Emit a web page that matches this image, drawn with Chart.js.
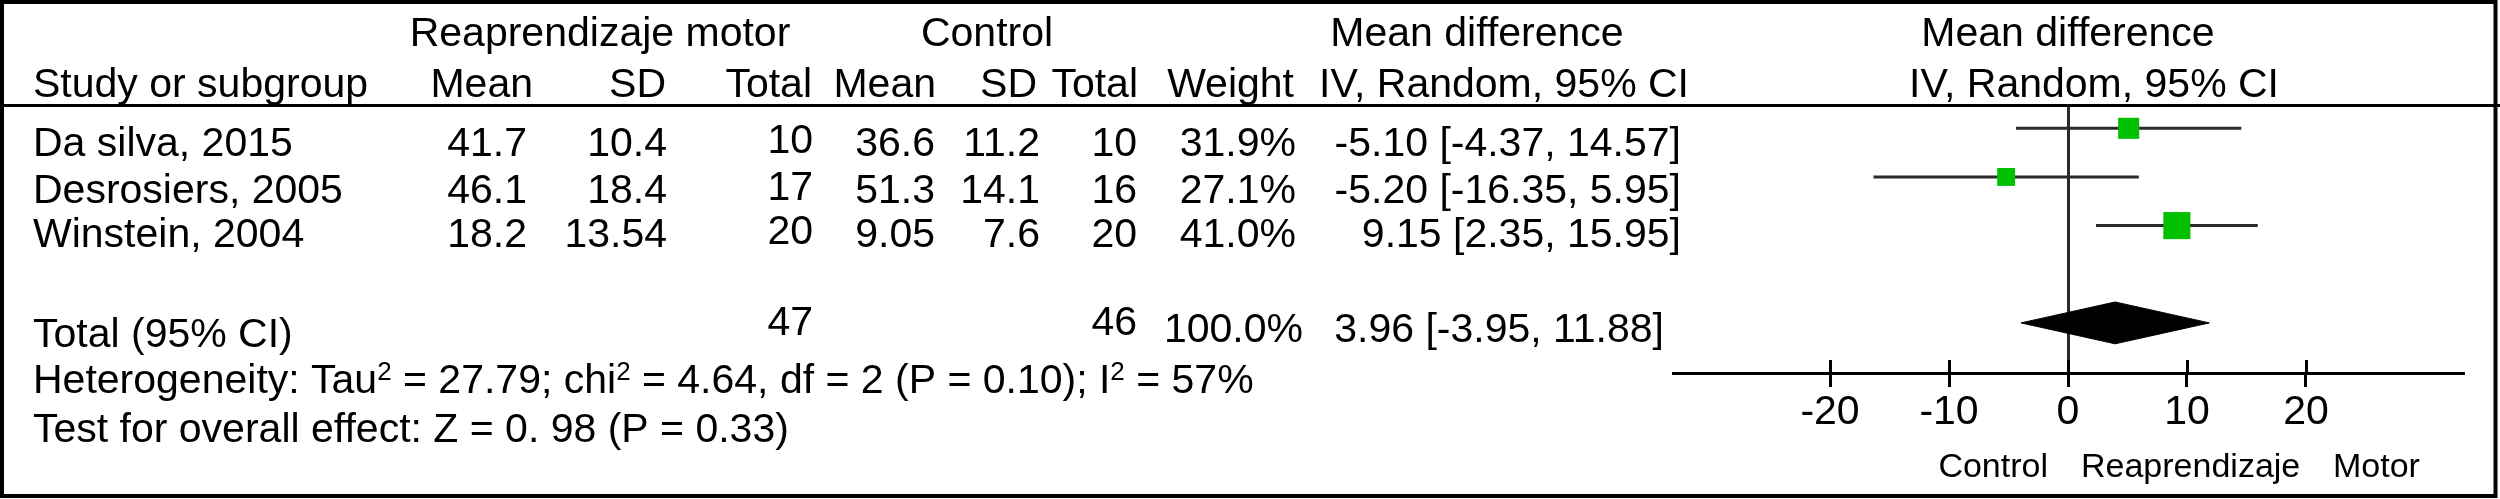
<!DOCTYPE html>
<html>
<head>
<meta charset="utf-8">
<script src="https://cdn.jsdelivr.net/npm/chart.js@4/dist/chart.umd.min.js"></script>
<style>
  html, body { margin: 0; padding: 0; background: #fff; }
  canvas { display: block; }
</style>
</head>
<body>
<canvas id="forest" width="2500" height="499"></canvas>
<script>
// study data
const studies = ["Da silva, 2015", "Desrosiers, 2005", "Winstein, 2004"];
const expMean = [41.7, 46.1, 18.2];
const expSD = [10.4, 18.4, 13.54];
const expTotal = [10, 17, 20];
const ctrlMean = [36.6, 51.3, 9.05];
const ctrlSD = [11.2, 14.1, 7.6];
const ctrlTotal = [10, 16, 20];
const weights = [31.9, 27.1, 41.0];
const meanDiff = [5.10, -5.20, 9.15];
const ciLow = [-4.37, -16.35, 2.35];
const ciHigh = [14.57, 5.95, 15.95];
const mdLabels = ["-5.10 [-4.37, 14.57]", "-5.20 [-16.35, 5.95]", "9.15 [2.35, 15.95]"];

// pooled result
const totalExp = 47;
const totalCtrl = 46;
const totalWeight = 100.0;
const pooled = 3.96;
const pooledLow = -3.95;
const pooledHigh = 11.88;
const pooledLabel = "3.96 [-3.95, 11.88]";

const xTicks = [-20, -10, 0, 10, 20];

const FONT = '"Liberation Sans", Arial, Helvetica, sans-serif';
const rowY = [156, 203, 247];

function txt(ctx, s, x, y, align, size) {
  ctx.font = (size || 41) + "px " + FONT;
  ctx.textAlign = align || "left";
  ctx.textBaseline = "alphabetic";
  ctx.fillText(s, x, y);
}

// text with superscript "2" parts: [text, isSup]
function richTxt(ctx, parts, x, y) {
  let cx = x;
  parts.forEach(([s, sup]) => {
    ctx.font = (sup ? 26 : 41) + "px " + FONT;
    ctx.textAlign = "left";
    ctx.fillText(s, cx, sup ? y - 13 : y);
    cx += ctx.measureText(s).width;
  });
}

const tablePlugin = {
  id: "table",
  afterDraw(chart) {
    const ctx = chart.ctx;
    const x = chart.scales.x;
    ctx.save();
    ctx.fillStyle = "#000";

    // frame and header rule
    ctx.strokeStyle = "#000";
    ctx.lineWidth = 4;
    ctx.strokeRect(2, 2, 2493.5, 494);
    ctx.fillRect(0, 104, 2500, 3);

    // header
    txt(ctx, "Reaprendizaje motor", 600, 46, "center");
    txt(ctx, "Control", 987, 46, "center");
    txt(ctx, "Mean difference", 1477, 46, "center");
    txt(ctx, "Mean difference", 2068, 46, "center");

    txt(ctx, "Study or subgroup", 33, 97);
    txt(ctx, "Mean", 533, 97, "right");
    txt(ctx, "SD", 666, 97, "right");
    txt(ctx, "Total", 812, 97, "right");
    txt(ctx, "Mean", 936, 97, "right");
    txt(ctx, "SD", 1037, 97, "right");
    txt(ctx, "Total", 1138, 97, "right");
    txt(ctx, "Weight", 1294, 97, "right");
    txt(ctx, "IV, Random, 95% CI", 1689, 97, "right");
    txt(ctx, "IV, Random, 95% CI", 2094, 97, "center");

    // study rows
    studies.forEach((name, i) => {
      const y = rowY[i];
      txt(ctx, name, 33, y);
      txt(ctx, String(expMean[i]), 527, y, "right");
      txt(ctx, String(expSD[i]), 667, y, "right");
      txt(ctx, String(expTotal[i]), 813, y - 3, "right");
      txt(ctx, String(ctrlMean[i]), 935, y, "right");
      txt(ctx, String(ctrlSD[i]), 1040, y, "right");
      txt(ctx, String(ctrlTotal[i]), 1137, y, "right");
      txt(ctx, weights[i].toFixed(1) + "%", 1296, y, "right");
      txt(ctx, mdLabels[i], 1681, y, "right");
    });

    // total row
    txt(ctx, "Total (95% CI)", 33, 347);
    txt(ctx, String(totalExp), 813, 335, "right");
    txt(ctx, String(totalCtrl), 1137, 335, "right");
    txt(ctx, totalWeight.toFixed(1) + "%", 1303, 342, "right");
    txt(ctx, pooledLabel, 1664, 342, "right");

    richTxt(ctx, [["Heterogeneity: Tau"], ["2", true], [" = 27.79; chi"], ["2", true],
      [" = 4.64, df = 2 (P = 0.10); I"], ["2", true], [" = 57%"]], 33, 393);
    txt(ctx, "Test for overall effect: Z = 0. 98 (P = 0.33)", 33, 442);

    // upper half of the axis ticks
    ctx.strokeStyle = "#000";
    ctx.lineWidth = 3;
    xTicks.forEach(v => {
      const px = Math.round(x.getPixelForValue(v)) + 0.5;
      ctx.beginPath();
      ctx.moveTo(px, x.top - 13);
      ctx.lineTo(px, x.top);
      ctx.stroke();
    });

    // favours labels
    const zero = x.getPixelForValue(0);
    txt(ctx, "Control", zero - 20, 477, "right", 34);
    txt(ctx, "Reaprendizaje", zero + 13, 477, "left", 34);
    txt(ctx, "Motor", zero + 265, 477, "left", 34);
    ctx.restore();
  }
};

const ciSets = studies.map((s, i) => ({
  type: "line",
  label: s,
  data: [{ x: ciLow[i], y: i }, { x: ciHigh[i], y: i }],
  borderColor: "#2a2a2a",
  borderWidth: 3,
  pointRadius: 0,
  fill: false,
  order: 2
}));

new Chart(document.getElementById("forest"), {
  type: "scatter",
  data: {
    datasets: [
      {
        label: "Estimate",
        data: meanDiff.map((v, i) => ({ x: v, y: i })),
        pointStyle: "rect",
        pointRadius: weights.map(w => (w * 0.66) / Math.SQRT2),
        backgroundColor: "#00c000",
        borderWidth: 0,
        order: 1
      },
      {
        type: "line",
        label: "Total",
        data: [
          { x: pooledLow, y: 4 }, { x: pooled, y: 3.57 },
          { x: pooledHigh, y: 4 }, { x: pooled, y: 4.43 }, { x: pooledLow, y: 4 }
        ],
        borderColor: "#000",
        backgroundColor: "#000",
        borderWidth: 1,
        pointRadius: 0,
        tension: 0,
        fill: "shape",
        order: 1
      },
      ...ciSets
    ]
  },
  options: {
    responsive: false,
    animation: false,
    events: [],
    layout: { padding: { left: 1673, right: 37, top: 104, bottom: 61 } },
    plugins: { legend: { display: false }, tooltip: { enabled: false } },
    scales: {
      x: {
        type: "linear",
        min: -33.2,
        max: 33.2,
        afterBuildTicks: scale => { scale.ticks = xTicks.map(v => ({ value: v })); },
        grid: {
          drawOnChartArea: true,
          color: c => (c.tick && c.tick.value === 0 ? "#2a2a2a" : "rgba(0,0,0,0)"),
          lineWidth: 3,
          tickLength: 14,
          tickColor: "#000",
          tickWidth: 3
        },
        border: { display: true, color: "#000", width: 3 },
        ticks: {
          autoSkip: false,
          maxRotation: 0,
          padding: 5,
          color: "#000",
          font: { family: FONT, size: 41, lineHeight: 1 }
        }
      },
      y: { type: "linear", display: false, reverse: true, min: -0.5, max: 5.03 }
    }
  },
  plugins: [tablePlugin]
});
</script>
</body>
</html>
